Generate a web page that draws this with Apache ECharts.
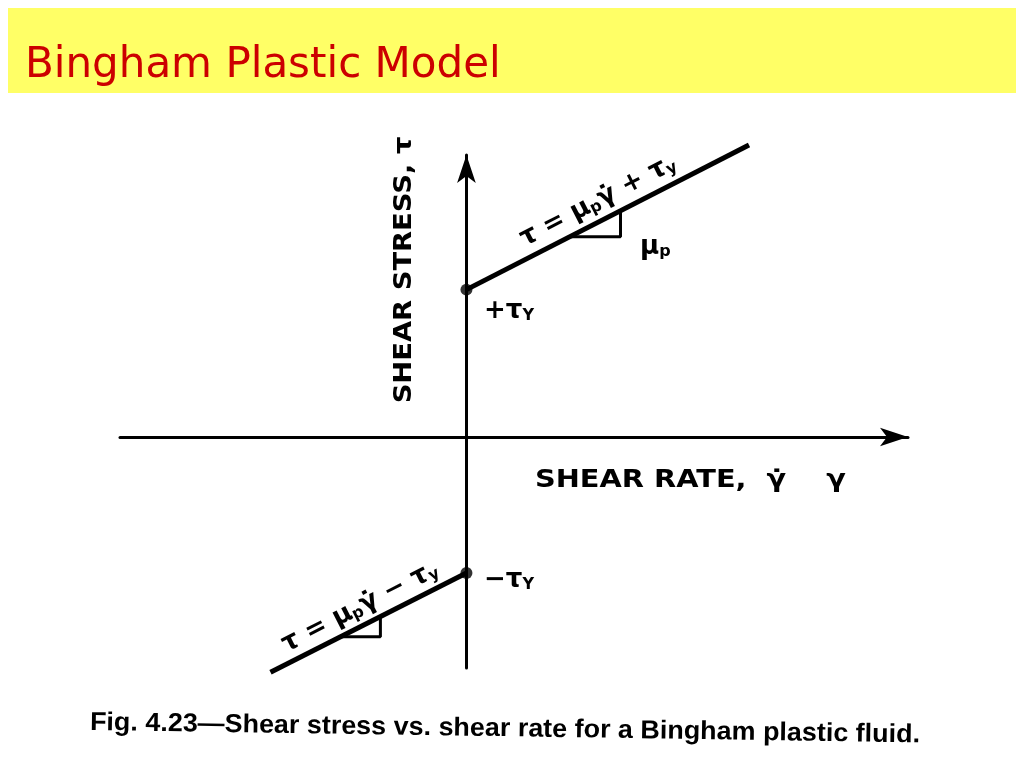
<!DOCTYPE html>
<html><head><meta charset="utf-8">
<script src="https://cdn.jsdelivr.net/npm/echarts@6/dist/echarts.min.js"></script>
<style>html,body{margin:0;padding:0;background:#fff}#c{width:1024px;height:768px}</style>
</head><body><div id="c"></div>
<script>
// Data (units: yield stress tau_y = 1)
var upperGamma = [0, 1.99];
var upperTau = [1.04, 2.06];
var lowerGamma = [0, -1.38];
var lowerTau = [-0.96, -1.66];
var yieldPointsGamma = [0, 0];
var yieldPointsTau = [1.04, -0.96];
var slopeTriUpperGamma = [0.73, 1.085, 1.085];
var slopeTriUpperTau = [1.414, 1.414, 1.60];
var slopeTriLowerGamma = [-0.887, -0.606, -0.606];
var slopeTriLowerTau = [-1.41, -1.41, -1.267];

function zip(a, b) { return a.map(function (v, i) { return [v, b[i]]; }); }

var chart = echarts.init(document.getElementById('c'));
var ink = '#000';
var sub = { fontSize: 16, fontWeight: 'bold', fontFamily: 'DejaVu Sans', fill: ink, padding: [10, 0, 0, 0] };
var main = { fontSize: 26, fontWeight: 'bold', fontFamily: 'DejaVu Sans', fill: ink };
chart.setOption({
  animation: false,
  backgroundColor: '#fff',
  title: {
    text: 'Bingham Plastic Model', left: 20, top: 40,
    textStyle: { color: '#cc0000', fontSize: 42, fontWeight: 'normal', fontFamily: 'DejaVu Sans' }
  },
  grid: { left: 120, right: 116, top: 155, bottom: 100 },
  xAxis: {
    type: 'value', min: -2.44, max: 3.11,
    axisLine: { onZero: true, symbol: ['none', 'arrow'], symbolSize: [14, 28], lineStyle: { color: ink, width: 3 } },
    axisTick: { show: false }, axisLabel: { show: false }, splitLine: { show: false }
  },
  yAxis: {
    type: 'value', min: -1.63, max: 1.99,
    axisLine: { onZero: true, symbol: ['none', 'arrow'], symbolSize: [14, 28], lineStyle: { color: ink, width: 3 } },
    axisTick: { show: false }, axisLabel: { show: false }, splitLine: { show: false }
  },
  series: [
    { type: 'line', data: zip(upperGamma, upperTau), symbol: 'none', clip: false, lineStyle: { color: ink, width: 5 } },
    { type: 'line', data: zip(lowerGamma, lowerTau), symbol: 'none', clip: false, lineStyle: { color: ink, width: 5 } },
    { type: 'line', data: zip(slopeTriUpperGamma, slopeTriUpperTau), symbol: 'none', lineStyle: { color: ink, width: 3 } },
    { type: 'line', data: zip(slopeTriLowerGamma, slopeTriLowerTau), symbol: 'none', lineStyle: { color: ink, width: 3 } },
    { type: 'scatter', data: zip(yieldPointsGamma, yieldPointsTau), symbolSize: 12, itemStyle: { color: ink }, z: 5 }
  ],
  graphic: [
    { type: 'rect', left: 8, top: 8, shape: { width: 1008, height: 85 }, style: { fill: '#ffff66' }, z: -10 },
    { type: 'text', x: 405, y: 270, rotation: Math.PI / 2, style: { text: 'SHEAR STRESS, τ', font: 'bold 24px "DejaVu Sans"', fill: ink, align: 'center', verticalAlign: 'middle' }, scaleX: 1.14 },
    { type: 'text', x: 535, y: 481, style: { text: 'SHEAR RATE,  γ̇    γ', font: 'bold 24px "DejaVu Sans"', fill: ink, align: 'left', verticalAlign: 'middle' }, scaleX: 1.2 },
    { type: 'text', x: 484, y: 311, style: { text: '{m|+τ}{s|Y}', rich: { m: main, s: sub }, verticalAlign: 'middle' } },
    { type: 'text', x: 484, y: 580, style: { text: '{m|−τ}{s|Y}', rich: { m: main, s: sub }, verticalAlign: 'middle' } },
    { type: 'text', x: 640, y: 247, style: { text: '{m|μ}{s|p}', rich: { m: main, s: sub }, verticalAlign: 'middle' } },
    { type: 'text', x: 598, y: 201, rotation: 0.475, style: { text: '{m|τ = μ}{s|p}{m|γ̇ + τ}{s|y}', rich: { m: main, s: sub }, align: 'center', verticalAlign: 'middle' } },
    { type: 'text', x: 360, y: 607, rotation: 0.47, style: { text: '{m|τ = μ}{s|p}{m|γ̇ − τ}{s|y}', rich: { m: main, s: sub }, align: 'center', verticalAlign: 'middle' } },
    { type: 'text', x: 505, y: 729, rotation: -0.015, scaleX: 1.035, style: { text: 'Fig. 4.23—Shear stress vs. shear rate for a Bingham plastic fluid.', font: 'bold 26px "Liberation Sans"', fill: ink, align: 'center', verticalAlign: 'middle' } }
  ]
});
</script></body></html>
